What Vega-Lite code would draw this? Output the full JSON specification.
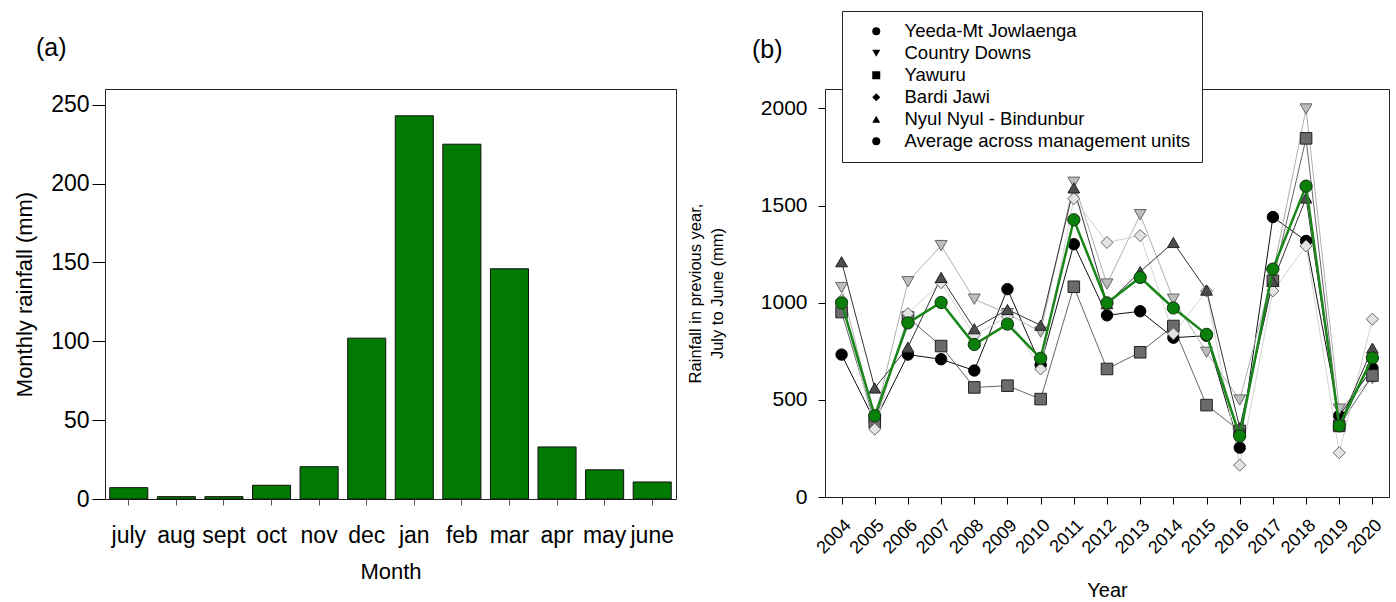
{
  "$schema": "https://vega.github.io/schema/vega-lite/v6.json",
  "padding": {"left": 13, "top": 10, "right": 2, "bottom": 2},
  "background": "white",
  "bounds": "flush",
  "spacing": 149,
  "resolve": {"scale": {"shape": "independent", "fill": "independent", "stroke": "independent", "size": "independent", "color": "independent"}, "legend": {"shape": "independent", "fill": "independent", "stroke": "independent", "size": "independent", "color": "independent"}},
  "config": {
    "view": {"stroke": "#222", "strokeWidth": 1},
    "font": "Liberation Sans",
    "axis": {"grid": false, "domain": false, "labelColor": "#000", "titleColor": "#000", "tickColor": "#000", "titleFontWeight": "normal", "labelFont": "Liberation Sans", "titleFont": "Liberation Sans"},
    "title": {"font": "Liberation Sans", "fontWeight": "normal", "fontSize": 25, "anchor": "start", "color": "#000", "frame": "group"}
  },
  "datasets": {
    "monthly": [
      {"month": "july", "rain": 7.2}, {"month": "aug", "rain": 1.5}, {"month": "sept", "rain": 1.5},
      {"month": "oct", "rain": 8.7}, {"month": "nov", "rain": 20.5}, {"month": "dec", "rain": 102},
      {"month": "jan", "rain": 243}, {"month": "feb", "rain": 225}, {"month": "mar", "rain": 146},
      {"month": "apr", "rain": 33}, {"month": "may", "rain": 18.5}, {"month": "june", "rain": 10.8}
    ],
    "annual": [
      {"year": 2004, "series": "Yeeda-Mt Jowlaenga", "value": 733},
      {"year": 2005, "series": "Yeeda-Mt Jowlaenga", "value": 390},
      {"year": 2006, "series": "Yeeda-Mt Jowlaenga", "value": 733},
      {"year": 2007, "series": "Yeeda-Mt Jowlaenga", "value": 709},
      {"year": 2008, "series": "Yeeda-Mt Jowlaenga", "value": 651},
      {"year": 2009, "series": "Yeeda-Mt Jowlaenga", "value": 1070},
      {"year": 2010, "series": "Yeeda-Mt Jowlaenga", "value": 680},
      {"year": 2011, "series": "Yeeda-Mt Jowlaenga", "value": 1301},
      {"year": 2012, "series": "Yeeda-Mt Jowlaenga", "value": 935},
      {"year": 2013, "series": "Yeeda-Mt Jowlaenga", "value": 956},
      {"year": 2014, "series": "Yeeda-Mt Jowlaenga", "value": 820},
      {"year": 2015, "series": "Yeeda-Mt Jowlaenga", "value": 830},
      {"year": 2016, "series": "Yeeda-Mt Jowlaenga", "value": 254},
      {"year": 2017, "series": "Yeeda-Mt Jowlaenga", "value": 1441},
      {"year": 2018, "series": "Yeeda-Mt Jowlaenga", "value": 1318},
      {"year": 2019, "series": "Yeeda-Mt Jowlaenga", "value": 418},
      {"year": 2020, "series": "Yeeda-Mt Jowlaenga", "value": 664},
      {"year": 2004, "series": "Country Downs", "value": 1078},
      {"year": 2005, "series": "Country Downs", "value": 400},
      {"year": 2006, "series": "Country Downs", "value": 1108},
      {"year": 2007, "series": "Country Downs", "value": 1294},
      {"year": 2008, "series": "Country Downs", "value": 1018},
      {"year": 2009, "series": "Country Downs", "value": 944},
      {"year": 2010, "series": "Country Downs", "value": 849},
      {"year": 2011, "series": "Country Downs", "value": 1620},
      {"year": 2012, "series": "Country Downs", "value": 1096},
      {"year": 2013, "series": "Country Downs", "value": 1453},
      {"year": 2014, "series": "Country Downs", "value": 1018},
      {"year": 2015, "series": "Country Downs", "value": 745},
      {"year": 2016, "series": "Country Downs", "value": 499},
      {"year": 2017, "series": "Country Downs", "value": 1150},
      {"year": 2018, "series": "Country Downs", "value": 1997},
      {"year": 2019, "series": "Country Downs", "value": 452},
      {"year": 2020, "series": "Country Downs", "value": 610},
      {"year": 2004, "series": "Yawuru", "value": 952},
      {"year": 2005, "series": "Yawuru", "value": 385},
      {"year": 2006, "series": "Yawuru", "value": 924},
      {"year": 2007, "series": "Yawuru", "value": 777},
      {"year": 2008, "series": "Yawuru", "value": 564},
      {"year": 2009, "series": "Yawuru", "value": 573},
      {"year": 2010, "series": "Yawuru", "value": 504},
      {"year": 2011, "series": "Yawuru", "value": 1082},
      {"year": 2012, "series": "Yawuru", "value": 659},
      {"year": 2013, "series": "Yawuru", "value": 745},
      {"year": 2014, "series": "Yawuru", "value": 880},
      {"year": 2015, "series": "Yawuru", "value": 473},
      {"year": 2016, "series": "Yawuru", "value": 340},
      {"year": 2017, "series": "Yawuru", "value": 1113},
      {"year": 2018, "series": "Yawuru", "value": 1846},
      {"year": 2019, "series": "Yawuru", "value": 366},
      {"year": 2020, "series": "Yawuru", "value": 625},
      {"year": 2004, "series": "Bardi Jawi", "value": 1013},
      {"year": 2005, "series": "Bardi Jawi", "value": 349},
      {"year": 2006, "series": "Bardi Jawi", "value": 944},
      {"year": 2007, "series": "Bardi Jawi", "value": 1103},
      {"year": 2008, "series": "Bardi Jawi", "value": 832},
      {"year": 2009, "series": "Bardi Jawi", "value": 927},
      {"year": 2010, "series": "Bardi Jawi", "value": 659},
      {"year": 2011, "series": "Bardi Jawi", "value": 1536},
      {"year": 2012, "series": "Bardi Jawi", "value": 1310},
      {"year": 2013, "series": "Bardi Jawi", "value": 1346},
      {"year": 2014, "series": "Bardi Jawi", "value": 840},
      {"year": 2015, "series": "Bardi Jawi", "value": 1060},
      {"year": 2016, "series": "Bardi Jawi", "value": 164},
      {"year": 2017, "series": "Bardi Jawi", "value": 1061},
      {"year": 2018, "series": "Bardi Jawi", "value": 1292},
      {"year": 2019, "series": "Bardi Jawi", "value": 228},
      {"year": 2020, "series": "Bardi Jawi", "value": 915},
      {"year": 2004, "series": "Nyul Nyul - Bindunbur", "value": 1211},
      {"year": 2005, "series": "Nyul Nyul - Bindunbur", "value": 561},
      {"year": 2006, "series": "Nyul Nyul - Bindunbur", "value": 771},
      {"year": 2007, "series": "Nyul Nyul - Bindunbur", "value": 1130},
      {"year": 2008, "series": "Nyul Nyul - Bindunbur", "value": 866},
      {"year": 2009, "series": "Nyul Nyul - Bindunbur", "value": 965},
      {"year": 2010, "series": "Nyul Nyul - Bindunbur", "value": 884},
      {"year": 2011, "series": "Nyul Nyul - Bindunbur", "value": 1591},
      {"year": 2012, "series": "Nyul Nyul - Bindunbur", "value": 995},
      {"year": 2013, "series": "Nyul Nyul - Bindunbur", "value": 1160},
      {"year": 2014, "series": "Nyul Nyul - Bindunbur", "value": 1310},
      {"year": 2015, "series": "Nyul Nyul - Bindunbur", "value": 1065},
      {"year": 2016, "series": "Nyul Nyul - Bindunbur", "value": 357},
      {"year": 2017, "series": "Nyul Nyul - Bindunbur", "value": 1110},
      {"year": 2018, "series": "Nyul Nyul - Bindunbur", "value": 1539},
      {"year": 2019, "series": "Nyul Nyul - Bindunbur", "value": 374},
      {"year": 2020, "series": "Nyul Nyul - Bindunbur", "value": 766},
      {"year": 2004, "series": "Average across management units", "value": 999},
      {"year": 2005, "series": "Average across management units", "value": 418},
      {"year": 2006, "series": "Average across management units", "value": 896},
      {"year": 2007, "series": "Average across management units", "value": 1001},
      {"year": 2008, "series": "Average across management units", "value": 785},
      {"year": 2009, "series": "Average across management units", "value": 890},
      {"year": 2010, "series": "Average across management units", "value": 714},
      {"year": 2011, "series": "Average across management units", "value": 1427},
      {"year": 2012, "series": "Average across management units", "value": 999},
      {"year": 2013, "series": "Average across management units", "value": 1130},
      {"year": 2014, "series": "Average across management units", "value": 973},
      {"year": 2015, "series": "Average across management units", "value": 837},
      {"year": 2016, "series": "Average across management units", "value": 314},
      {"year": 2017, "series": "Average across management units", "value": 1173},
      {"year": 2018, "series": "Average across management units", "value": 1600},
      {"year": 2019, "series": "Average across management units", "value": 366},
      {"year": 2020, "series": "Average across management units", "value": 716}
    ]
  },
  "hconcat": [
    {
      "width": 571,
      "height": 410,
      "title": {"text": "(a)", "dx": -69, "offset": 28},
      "data": {"name": "monthly"},
      "mark": {"type": "bar", "fill": "#007a00", "stroke": "#111", "strokeWidth": 1},
      "encoding": {
        "x": {
          "field": "month", "type": "nominal", "sort": null,
          "scale": {"paddingInner": 0.2, "paddingOuter": 0.1},
          "axis": {"title": "Month", "labelAngle": 0, "labelFontSize": 23, "titleFontSize": 22, "tickSize": 6, "tickColor": "#555", "labelPadding": 19, "titlePadding": 14}
        },
        "y": {
          "field": "rain", "type": "quantitative",
          "scale": {"domain": [0, 260], "nice": false},
          "axis": {"title": "Monthly rainfall (mm)", "format": "d", "values": [0, 50, 100, 150, 200, 250], "labelFontSize": 23, "titleFontSize": 22, "tickSize": 13, "labelPadding": 3, "titlePadding": 14}
        }
      }
    },
    {
      "width": 564,
      "height": 408,
      "title": {"text": "(b)", "dx": -73, "dy": 80, "offset": 28},
      "data": {"name": "annual"},
      "encoding": {
        "x": {
          "field": "year", "type": "ordinal",
          "scale": {"type": "point", "padding": 0.5},
          "axis": {"title": "Year", "labelAngle": -45, "labelFontSize": 18, "titleFontSize": 20, "tickSize": 7, "labelPadding": 12, "titlePadding": 23}
        },
        "y": {
          "field": "value", "type": "quantitative",
          "scale": {"domain": [0, 2100], "nice": false},
          "axis": {"title": ["Rainfall in previous year,", "July to June (mm)"], "format": "d", "values": [0, 500, 1000, 1500, 2000], "labelFontSize": 21, "titleFontSize": 16.5, "titleLineHeight": 22, "tickSize": 7, "labelPadding": 11, "titlePadding": 35}
        }
      },
      "layer": [
        {
          "transform": [{"filter": "datum.series !== 'Average across management units'"}],
          "mark": {"type": "line", "strokeWidth": 1},
          "encoding": {
            "color": {
              "field": "series", "type": "nominal", "legend": null,
              "scale": {"domain": ["Average across management units", "Bardi Jawi", "Country Downs", "Nyul Nyul - Bindunbur", "Yawuru", "Yeeda-Mt Jowlaenga"],
                        "range": ["#1a861a", "#d2d2d2", "#b0b0b0", "#333333", "#666666", "#111111"]}
            }
          }
        },
        {
          "transform": [{"filter": "datum.series !== 'Average across management units'"}],
          "mark": {"type": "point", "filled": true, "opacity": 1, "strokeWidth": 1},
          "encoding": {
            "shape": {
              "field": "series", "type": "nominal",
              "scale": {"domain": ["Yeeda-Mt Jowlaenga", "Country Downs", "Yawuru", "Bardi Jawi", "Nyul Nyul - Bindunbur", "Average across management units"],
                        "range": ["circle", "triangle-down", "square", "diamond", "triangle-up", "circle"]},
              "legend": {
                "orient": "none", "legendX": 17, "legendY": -78, "title": null,
                "fillColor": "white", "strokeColor": "#222", "padding": 11,
                "labelFont": "Liberation Sans", "labelFontSize": 18.5, "labelColor": "#000", "labelLimit": 500,
                "rowPadding": 3, "symbolSize": 64, "symbolOffset": 14, "labelOffset": 19, "symbolStrokeWidth": 1,
                "encode": {
                  "symbols": {
                    "shape": {"signal": "datum.value === 'Yeeda-Mt Jowlaenga' ? 'M-5,0H-1M1,0H5M1,0A1,1,0,1,1,-1,0A1,1,0,1,1,1,0Z' : datum.value === 'Country Downs' ? 'M-5,0H-0.53M0.53,0H5M-1,-0.8L1,-0.8L0,0.9Z' : datum.value === 'Yawuru' ? 'M-5,0H-0.9M0.9,0H5M-0.9,-0.9H0.9V0.9H-0.9Z' : datum.value === 'Bardi Jawi' ? 'M-5,0H-1M1,0H5M0,-1L1,0L0,1L-1,0Z' : datum.value === 'Nyul Nyul - Bindunbur' ? 'M-5,0H-0.53M0.53,0H5M0,-0.9L1,0.8L-1,0.8Z' : 'M-5,0H-1M1,0H5M1,0A1,1,0,1,1,-1,0A1,1,0,1,1,1,0Z'"},
                    "fill": {"signal": "datum.value === 'Yeeda-Mt Jowlaenga' ? '#000000' : datum.value === 'Country Downs' ? '#bdbdbd' : datum.value === 'Yawuru' ? '#6b6b6b' : datum.value === 'Bardi Jawi' ? '#e3e3e3' : datum.value === 'Nyul Nyul - Bindunbur' ? '#4d4d4d' : '#0a800a'"},
                    "stroke": {"signal": "datum.value === 'Yeeda-Mt Jowlaenga' ? '#000000' : datum.value === 'Country Downs' ? '#8a8a8a' : datum.value === 'Yawuru' ? '#333333' : datum.value === 'Bardi Jawi' ? '#9a9a9a' : datum.value === 'Nyul Nyul - Bindunbur' ? '#222222' : '#0a800a'"},
                    "strokeWidth": {"value": 1.2}
                  }
                }
              }
            },
            "fill": {
              "field": "series", "type": "nominal", "legend": null,
              "scale": {"domain": ["Average across management units", "Bardi Jawi", "Country Downs", "Nyul Nyul - Bindunbur", "Yawuru", "Yeeda-Mt Jowlaenga"],
                        "range": ["#0a800a", "#e3e3e3", "#bdbdbd", "#4d4d4d", "#6b6b6b", "#000000"]}
            },
            "stroke": {
              "field": "series", "type": "nominal", "legend": null,
              "scale": {"domain": ["Average across management units", "Bardi Jawi", "Country Downs", "Nyul Nyul - Bindunbur", "Yawuru", "Yeeda-Mt Jowlaenga"],
                        "range": ["#113311", "#666666", "#666666", "#222222", "#222222", "#000000"]}
            },
            "size": {
              "field": "series", "type": "nominal", "legend": null,
              "scale": {"domain": ["Average across management units", "Bardi Jawi", "Country Downs", "Nyul Nyul - Bindunbur", "Yawuru", "Yeeda-Mt Jowlaenga"],
                        "range": [150, 130, 100, 100, 85, 95]}
            }
          }
        },
        {
          "transform": [{"filter": "datum.series === 'Average across management units'"}],
          "mark": {"type": "line", "strokeWidth": 2.5},
          "encoding": {
            "color": {"field": "series", "type": "nominal", "legend": null}
          }
        },
        {
          "transform": [{"filter": "datum.series === 'Average across management units'"}],
          "mark": {"type": "point", "filled": true, "opacity": 1, "strokeWidth": 1},
          "encoding": {
            "shape": {
              "field": "series", "type": "nominal",
              "legend": {
                "orient": "none", "legendX": 17, "legendY": -78, "title": null,
                "fillColor": "white", "strokeColor": "#222", "padding": 11,
                "labelFont": "Liberation Sans", "labelFontSize": 18.5, "labelColor": "#000", "labelLimit": 500,
                "rowPadding": 3, "symbolSize": 64, "symbolOffset": 14, "labelOffset": 19, "symbolStrokeWidth": 1,
                "encode": {
                  "symbols": {
                    "shape": {"signal": "datum.value === 'Yeeda-Mt Jowlaenga' ? 'M-5,0H-1M1,0H5M1,0A1,1,0,1,1,-1,0A1,1,0,1,1,1,0Z' : datum.value === 'Country Downs' ? 'M-5,0H-0.53M0.53,0H5M-1,-0.8L1,-0.8L0,0.9Z' : datum.value === 'Yawuru' ? 'M-5,0H-0.9M0.9,0H5M-0.9,-0.9H0.9V0.9H-0.9Z' : datum.value === 'Bardi Jawi' ? 'M-5,0H-1M1,0H5M0,-1L1,0L0,1L-1,0Z' : datum.value === 'Nyul Nyul - Bindunbur' ? 'M-5,0H-0.53M0.53,0H5M0,-0.9L1,0.8L-1,0.8Z' : 'M-5,0H-1M1,0H5M1,0A1,1,0,1,1,-1,0A1,1,0,1,1,1,0Z'"},
                    "fill": {"signal": "datum.value === 'Yeeda-Mt Jowlaenga' ? '#000000' : datum.value === 'Country Downs' ? '#bdbdbd' : datum.value === 'Yawuru' ? '#6b6b6b' : datum.value === 'Bardi Jawi' ? '#e3e3e3' : datum.value === 'Nyul Nyul - Bindunbur' ? '#4d4d4d' : '#0a800a'"},
                    "stroke": {"signal": "datum.value === 'Yeeda-Mt Jowlaenga' ? '#000000' : datum.value === 'Country Downs' ? '#8a8a8a' : datum.value === 'Yawuru' ? '#333333' : datum.value === 'Bardi Jawi' ? '#9a9a9a' : datum.value === 'Nyul Nyul - Bindunbur' ? '#222222' : '#0a800a'"},
                    "strokeWidth": {"value": 1.2}
                  }
                }
              }
            },
            "fill": {"field": "series", "type": "nominal", "legend": null},
            "stroke": {"field": "series", "type": "nominal", "legend": null},
            "size": {"field": "series", "type": "nominal", "legend": null}
          }
        }
      ]
    }
  ]
}
